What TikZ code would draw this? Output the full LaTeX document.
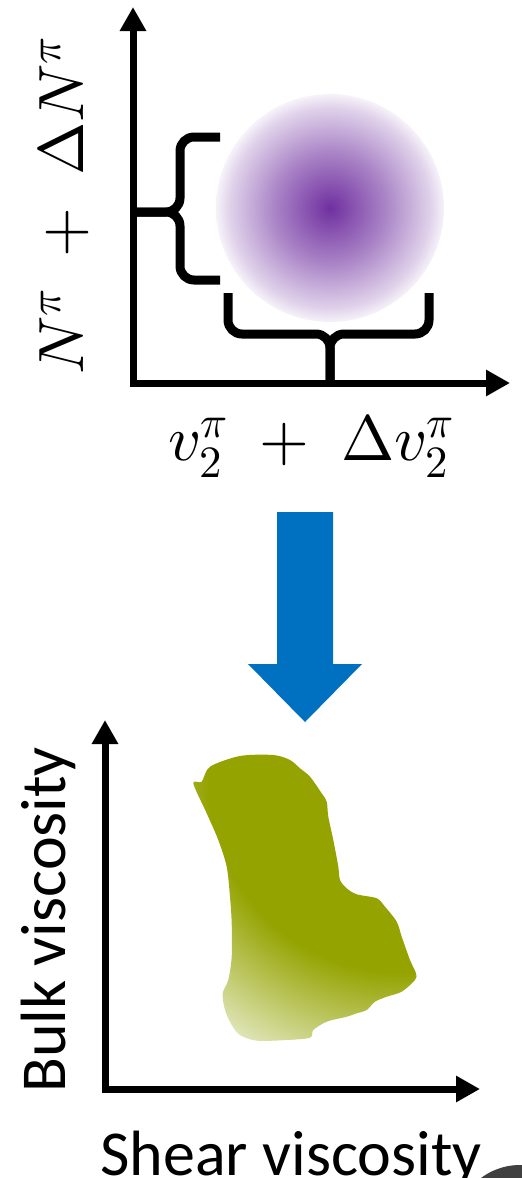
\documentclass[tikz,border=0pt]{standalone}
\usepackage{fontspec}
\setmainfont{Carlito}
\usepackage{unicode-math}
\usetikzlibrary{arrows.meta}
\definecolor{pcen}{RGB}{112,48,160}
\definecolor{gdark}{RGB}{148,163,0}
\definecolor{glight}{RGB}{236,240,214}
\definecolor{ablue}{RGB}{0,112,192}
\definecolor{dgray}{RGB}{64,64,64}
\pgfdeclareradialshading{purpleball}{\pgfpoint{0bp}{0bp}}{color(0bp)=(pcen); color(12bp)=(pcen!60!white); color(22bp)=(pcen!22!white); color(25bp)=(pcen!6!white); color(50bp)=(white)}
\pgfdeclareradialshading{olivefade}{\pgfpoint{0bp}{0bp}}{color(0bp)=(gdark); color(15bp)=(gdark); color(25bp)=(glight); color(50bp)=(glight)}
\begin{document}
\begin{tikzpicture}[x=1pt,y=1pt,
  axisline/.style={line width=7pt, line join=miter,
    arrows={Triangle[length=24pt,width=25pt]-Triangle[length=24pt,width=25pt]}},
  bracestyle/.style={line width=9pt, rounded corners=14pt},
  mathlbl/.style={font=\fontsize{64}{70}\selectfont, inner sep=0pt},
  textlbl/.style={font=\fontsize{64}{70}\selectfont, inner sep=0pt, anchor=base west}]
\fill[white] (0,0) rectangle (522,-1178);
\useasboundingbox (0,0) rectangle (522,-1178);

% ---------- top plot ----------
\coordinate (o1) at (133,-383);
\coordinate (y1) at (133,-7);
\coordinate (x1) at (510,-383);
\shade[shading=purpleball] (330,-208) circle (114);
\draw[bracestyle] (220,-137) -| (180,-212) -- (137,-212);
\draw[bracestyle] (220,-280) -| (180,-212) -- (137,-212);
\draw[bracestyle] (228,-293) |- (330,-334) -- (330,-381);
\draw[bracestyle] (429,-293) |- (330,-334) -- (330,-381);
\draw[axisline] (y1) -- (o1) -- (x1);
\node[mathlbl, rotate=90] (ylab1) at (63,-206) {$N^{\pi}\;+\;\Delta N^{\pi}$};
\node[mathlbl] (xlab1) at (311,-446) {$v_2^{\pi}\;+\;\Delta v_2^{\pi}$};

% ---------- blue arrow ----------
\fill[ablue] (277,-512) -- (333,-512) -- (333,-664) -- (362,-664) -- (305,-722)
  -- (248,-664) -- (277,-664) -- cycle;

% ---------- bottom plot ----------
\begin{scope}
\clip (0,0) rectangle (522,-1178);
\fill[dgray] (520,-1230) circle (65);
\end{scope}
\begin{scope}
\clip plot[smooth cycle, tension=0.5] coordinates {
 (193.3,-783.3) (201.7,-781.7) (210,-766.7) (240,-756) (273.3,-755) (290,-760)
 (300,-768.3) (310,-776.7) (321.7,-793.3) (326.7,-801.7) (328.3,-816.7) (333.3,-840)
 (338.3,-866.7) (340,-880) (346.7,-888.3) (356.7,-894.3) (376.7,-898.3) (385,-906.7)
 (396.7,-921.7) (401.7,-936.7) (410,-960) (416,-973.3) (415,-980) (401.7,-991.7)
 (386.7,-996.7) (375,-1001.7) (366.7,-1010) (356.7,-1013.3) (346.7,-1016.7)
 (326.7,-1021.7) (313.3,-1030) (310,-1037.7) (286.7,-1040) (256.7,-1040.7)
 (240,-1035) (231.7,-1025) (225,-1010) (222.7,-993.3) (228.3,-980) (231.7,-956.7)
 (231.7,-923.3) (230,-896.7) (226.7,-866.7) (218.3,-840) (206.7,-813.3)};
\shade[shading=olivefade] (400,-780) circle (320);
\end{scope}
\coordinate (o2) at (105,-1089);
\coordinate (y2) at (105,-720);
\coordinate (x2) at (480,-1089);
\draw[axisline] (y2) -- (o2) -- (x2);
\node[textlbl, rotate=90] (ylab2) at (65,-1093) {Bulk viscosity};
\node[textlbl] (xlab2) at (100,-1175) {Shear viscosity};
\end{tikzpicture}
\end{document}
